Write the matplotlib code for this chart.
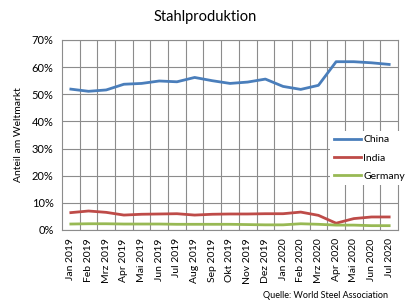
import matplotlib
matplotlib.use("Agg")
import matplotlib.pyplot as plt
from matplotlib.ticker import FixedLocator, PercentFormatter

plt.rcParams["font.family"] = ["Lato", "DejaVu Sans"]

months = ["Jan 2019", "Feb 2019", "Mrz 2019", "Apr 2019", "Mai 2019", "Jun 2019",
          "Jul 2019", "Aug 2019", "Sep 2019", "Okt 2019", "Nov 2019", "Dez 2019",
          "Jan 2020", "Feb 2020", "Mrz 2020", "Apr 2020", "Mai 2020", "Jun 2020",
          "Jul 2020"]
china = [51.9, 51.1, 51.6, 53.7, 54.0, 54.9, 54.6, 56.2, 55.0, 54.0, 54.5, 55.6,
         52.9, 51.8, 53.3, 62.0, 62.0, 61.6, 61.0]
india = [6.4, 7.0, 6.5, 5.5, 5.8, 5.9, 6.0, 5.5, 5.8, 5.9, 5.9, 6.0,
         6.0, 6.6, 5.4, 2.5, 4.2, 4.8, 4.8]
germany = [2.2, 2.3, 2.3, 2.2, 2.2, 2.2, 2.1, 2.1, 2.1, 2.1, 2.0, 1.9,
           1.9, 2.3, 2.1, 1.8, 1.8, 1.6, 1.6]

colors = {"China": "#4a7ebb", "India": "#be4b48", "Germany": "#98b954"}
grid_color = "#8c8c8c"

W, H = 410, 307
fig = plt.figure(figsize=(W / 100, H / 100), dpi=100)
ax = fig.add_axes([62 / W, 1 - 230 / H, 336 / W, 190 / H])

x = range(len(months))
for name, values in [("China", china), ("India", india), ("Germany", germany)]:
    ax.plot(x, values, color=colors[name], lw=2.0, label=name, zorder=3)

ax.set_xlim(-0.5, len(months) - 0.5)
ax.set_ylim(0, 70)
ax.set_yticks(range(0, 71, 10))
ax.yaxis.set_major_formatter(PercentFormatter(decimals=0))
ax.set_xticks(list(x))
ax.set_xticklabels(months, rotation=90, fontsize=7.5)
ax.xaxis.set_minor_locator(FixedLocator([i + 0.5 for i in range(len(months) - 1)]))
ax.tick_params(axis="x", which="both", length=0, pad=6)
ax.tick_params(axis="y", length=0, pad=6, labelsize=8)

ax.grid(True, axis="y", which="major", color=grid_color, lw=0.8)
ax.grid(True, axis="x", which="minor", color=grid_color, lw=0.8)
ax.grid(False, axis="x", which="major")
for s in ax.spines.values():
    s.set_color(grid_color)
    s.set_linewidth(0.8)

ax.set_ylabel("Anteil am Weltmarkt", fontsize=7.5, labelpad=6)

leg = ax.legend(loc="upper left", bbox_to_anchor=(268 / 336, 99 / 190),
                frameon=True, fontsize=7.5, handlelength=2.6, handletextpad=0.2,
                labelspacing=0.85, borderpad=0.4, borderaxespad=0)
leg.get_frame().set_edgecolor("none")
leg.get_frame().set_facecolor("white")
leg.get_frame().set_alpha(1)
leg.set_zorder(5)

fig.text(0.5, 1 - 17 / H, "Stahlproduktion", ha="center", va="center",
         fontsize=10.5)
fig.text(388 / W, 1 - 296 / H, "Quelle: World Steel Association", ha="right",
         va="center", fontsize=6.5)

fig.savefig("out.png", dpi=100)
